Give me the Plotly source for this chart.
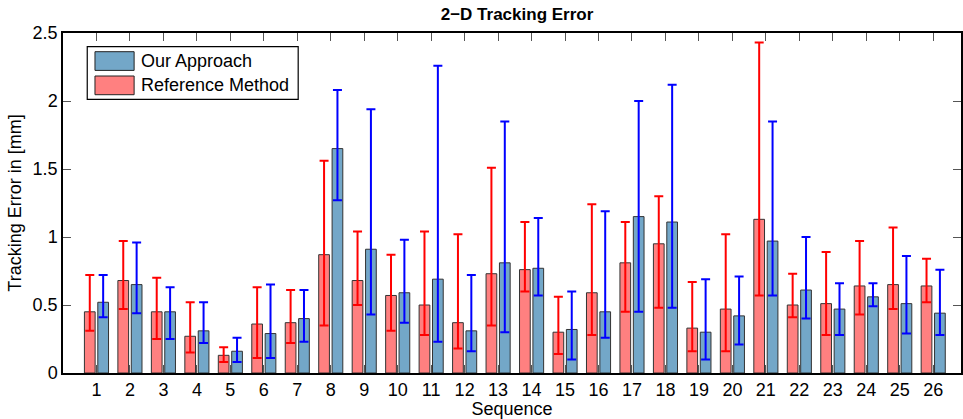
import plotly.graph_objects as go

sequences = list(range(1, 27))

ref_mean = [0.45, 0.68, 0.45, 0.27, 0.13, 0.36, 0.37, 0.87, 0.68, 0.57, 0.50, 0.37, 0.73,
            0.76, 0.30, 0.59, 0.81, 0.95, 0.33, 0.47, 1.13, 0.50, 0.51, 0.64, 0.65, 0.64]
ref_upper = [0.72, 0.97, 0.70, 0.52, 0.19, 0.63, 0.61, 1.56, 1.04, 0.87, 1.04, 1.02, 1.51,
             1.11, 0.56, 1.24, 1.11, 1.30, 0.67, 1.02, 2.43, 0.73, 0.89, 0.97, 1.07, 0.84]
ref_lower = [0.31, 0.47, 0.25, 0.15, 0.08, 0.11, 0.22, 0.35, 0.50, 0.31, 0.28, 0.18, 0.35,
             0.60, 0.14, 0.28, 0.45, 0.48, 0.16, 0.16, 0.57, 0.41, 0.28, 0.43, 0.47, 0.52]

our_mean = [0.52, 0.65, 0.45, 0.31, 0.16, 0.29, 0.40, 1.65, 0.91, 0.59, 0.69, 0.31, 0.81,
            0.77, 0.32, 0.45, 1.15, 1.11, 0.30, 0.42, 0.97, 0.61, 0.47, 0.56, 0.51, 0.44]
our_upper = [0.72, 0.96, 0.63, 0.52, 0.26, 0.65, 0.61, 2.08, 1.94, 0.98, 2.26, 0.72, 1.85,
             1.14, 0.60, 1.19, 2.00, 2.12, 0.69, 0.71, 1.85, 1.00, 0.66, 0.66, 0.86, 0.76]
our_lower = [0.41, 0.44, 0.25, 0.22, 0.08, 0.11, 0.23, 1.27, 0.43, 0.37, 0.23, 0.16, 0.30,
             0.57, 0.10, 0.26, 0.45, 0.48, 0.10, 0.21, 0.57, 0.40, 0.28, 0.49, 0.29, 0.28]

y_ticks = [0, 0.5, 1, 1.5, 2, 2.5]
y_tick_labels = ["0", "0.5", "1", "1.5", "2", "2.5"]

series_names = ["Our Approach", "Reference Method"]
series_fill = ["#73a7c8", "#ff8080"]
series_err = ["#0000ff", "#ff0000"]

FONT = "Liberation Sans, Arial, Helvetica, sans-serif"

fig = go.Figure()
fig.add_trace(go.Bar(
    x=sequences, y=ref_mean, name=series_names[1], showlegend=False,
    marker=dict(color=series_fill[1], line=dict(color="#333333", width=1)),
    error_y=dict(type="data", symmetric=False,
                 array=[u - m for u, m in zip(ref_upper, ref_mean)],
                 arrayminus=[m - l for m, l in zip(ref_mean, ref_lower)],
                 color=series_err[1], thickness=2, width=4.5),
))
fig.add_trace(go.Bar(
    x=sequences, y=our_mean, name=series_names[0], showlegend=False,
    marker=dict(color=series_fill[0], line=dict(color="#333333", width=1)),
    error_y=dict(type="data", symmetric=False,
                 array=[u - m for u, m in zip(our_upper, our_mean)],
                 arrayminus=[m - l for m, l in zip(our_mean, our_lower)],
                 color=series_err[0], thickness=2, width=4.5),
))

# Legend box (MATLAB-style, large patches)
shapes = [dict(type="rect", xref="paper", yref="paper", x0=0.027, x1=0.2619,
               y0=0.805, y1=0.96, line=dict(color="black", width=1.2),
               fillcolor="white", layer="above")]
annotations = []
patch_y = [(0.890, 0.945), (0.8185, 0.8735)]
text_y = [0.9176, 0.8456]
for name, fill, (py0, py1), ty in zip(series_names, series_fill, patch_y, text_y):
    shapes.append(dict(type="rect", xref="paper", yref="paper", x0=0.0356, x1=0.0792,
                       y0=py0, y1=py1, line=dict(color="#222222", width=1),
                       fillcolor=fill, layer="above"))
    annotations.append(dict(text=name, xref="paper", yref="paper", x=0.0844, y=ty,
                            xanchor="left", yanchor="middle", showarrow=False,
                            font=dict(size=18, family=FONT, color="black")))

fig.update_layout(
    width=963, height=419,
    margin=dict(l=63, r=0, t=33, b=46),
    paper_bgcolor="white", plot_bgcolor="white",
    barmode="group", bargap=0.2, bargroupgap=0.2,
    font=dict(family=FONT, size=18, color="black"),
    title=dict(text="<b>2\u2212D Tracking Error</b>", xref="paper", x=0.5056,
               xanchor="center", y=0.9666, yanchor="middle",
               font=dict(size=17, family=FONT)),
    showlegend=False,
    shapes=shapes,
    annotations=annotations,
)
fig.update_xaxes(
    range=[0, 26.83], tickmode="array", tickvals=sequences,
    ticktext=[str(s) for s in sequences],
    ticks="inside", ticklen=8, tickcolor="#555555", tickwidth=1,
    showline=True, linecolor="black", linewidth=1.5, mirror="ticks",
    showgrid=False, zeroline=False,
    title=dict(text="Sequence", standoff=0, font=dict(size=18)),
    tickfont=dict(size=18),
)
fig.update_yaxes(
    range=[0, 2.5], tickmode="array", tickvals=y_ticks, ticktext=y_tick_labels,
    ticks="inside", ticklen=8, tickcolor="#555555", tickwidth=1,
    showline=True, linecolor="black", linewidth=1.5, mirror="ticks",
    showgrid=False, zeroline=False,
    title=dict(text="Tracking Error in [mm]", standoff=6, font=dict(size=18)),
    tickfont=dict(size=18),
)

fig.write_html("out.html", config={"displayModeBar": False},
               post_script="document.body.style.margin='0';document.body.style.overflow='hidden';")
